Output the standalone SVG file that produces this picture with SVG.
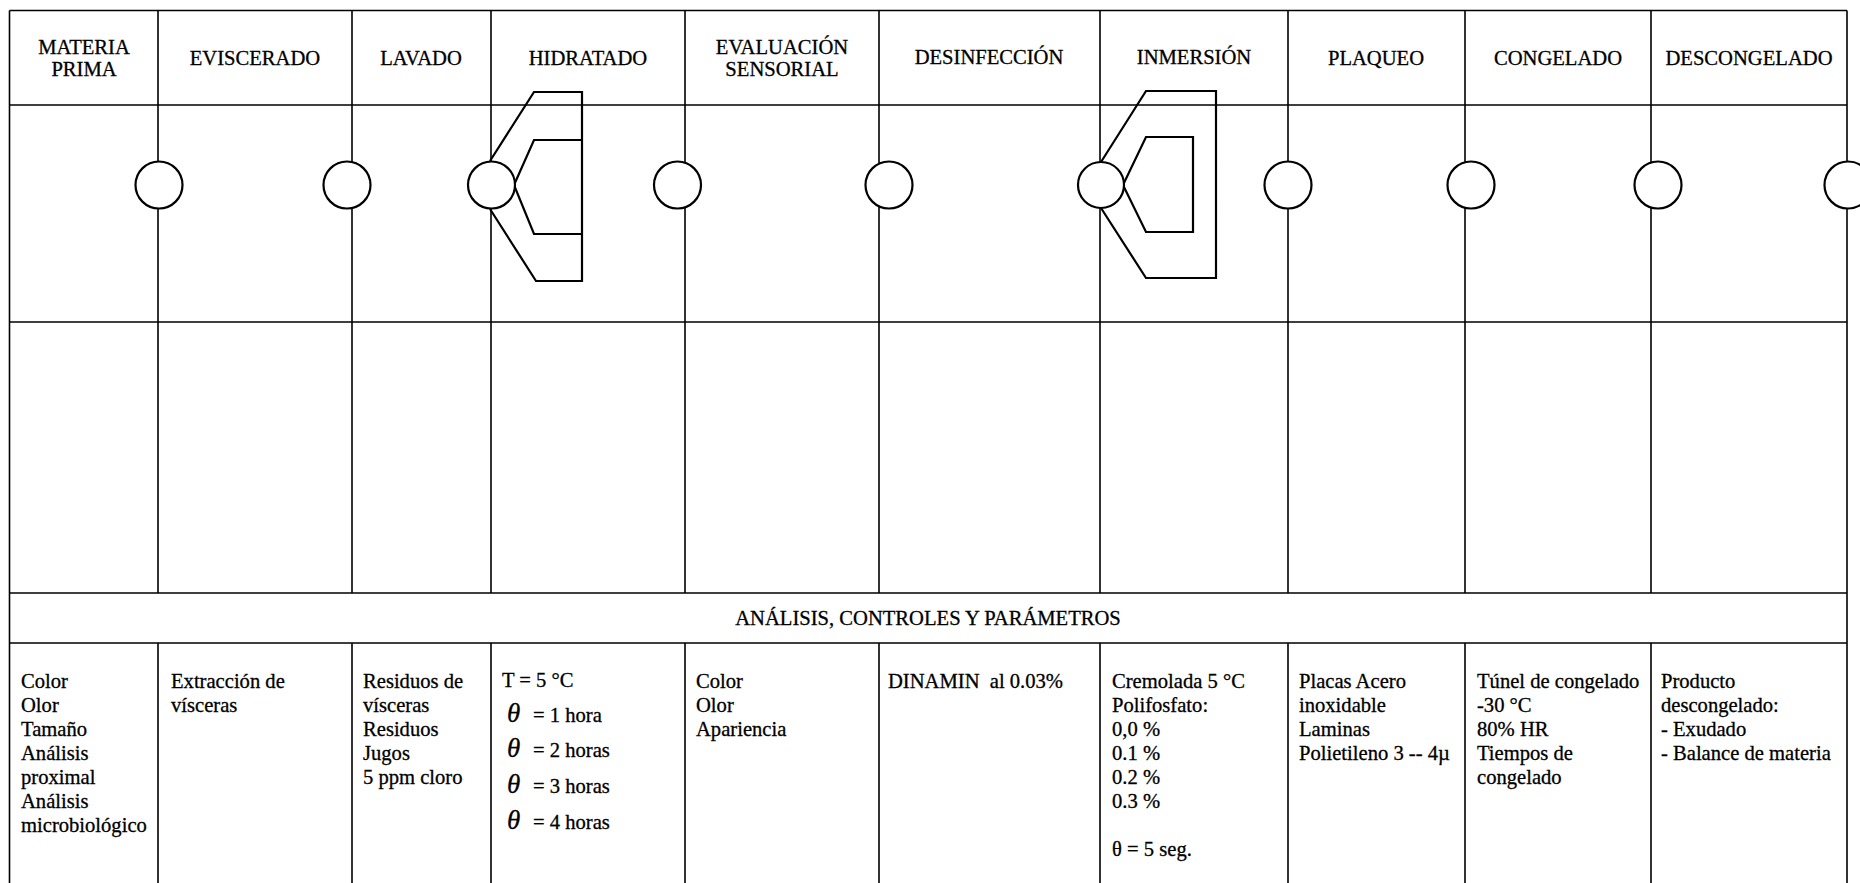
<svg xmlns="http://www.w3.org/2000/svg" width="1860" height="883" viewBox="0 0 1860 883">
<style>
.ln{stroke:#000;stroke-width:1.6;fill:none}
.c{fill:#fff;stroke:#000;stroke-width:2.2}
.sh{fill:none;stroke:#000;stroke-width:2.2;stroke-linejoin:miter}
.h{text-anchor:middle}
.th{font-style:italic;font-size:27px}
</style>
<rect width="1860" height="883" fill="#fff"/>
<g id="table">
<path class="ln" d="M9.5 10.5H1847M9.5 105H1847M9.5 322H1847M9.5 593H1847M9.5 643H1847M9.5 10.5V883M1847 10.5V883"/>
</g>
<g id="connectors">
<path class="ln" d="M158 10.5V593M352 10.5V593M491 10.5V593M685 10.5V593M879 10.5V593M1100 10.5V593M1288 10.5V593M1465 10.5V593M1651 10.5V593"/>
<path class="ln" d="M158 643V883M352 643V883M491 643V883M685 643V883M879 643V883M1100 643V883M1288 643V883M1465 643V883M1651 643V883"/>
</g>
<g id="shapes">
<g id="s-hidratado">
<path class="sh" d="M490 161L534 92H582V281H536L490 209"/>
<path class="sh" d="M582 140H534L514 185L534 234H582"/>
</g>
<g id="s-inmersion">
<path class="sh" d="M1101 162L1146 91H1216V278H1146L1101 208"/>
<path class="sh" d="M1123 185L1146 137H1193V232H1146Z"/>
</g>
</g>
<g id="circles">
<circle id="n1" class="c" cx="159" cy="185" r="23.5"/>
<circle id="n2" class="c" cx="347" cy="185" r="23.5"/>
<circle id="n3" class="c" cx="491.5" cy="185" r="23.5"/>
<circle id="n4" class="c" cx="677.5" cy="185" r="23.5"/>
<circle id="n5" class="c" cx="889" cy="185" r="23.5"/>
<circle id="n6" class="c" cx="1101" cy="185" r="23"/>
<circle id="n7" class="c" cx="1288" cy="185" r="23.5"/>
<circle id="n8" class="c" cx="1471" cy="185" r="23.5"/>
<circle id="n9" class="c" cx="1658" cy="185" r="23.5"/>
<circle id="n10" class="c" cx="1848" cy="185" r="23.5"/>
</g>
<g id="texts" font-family="Liberation Serif, serif" font-size="20.6" fill="#000" stroke="#000" stroke-width="0.3">
<g id="header">
<g id="h-materia"><text class="h" x="84" y="54">MATERIA</text><text class="h" x="84" y="76">PRIMA</text></g>
<g id="h-eviscerado"><text class="h" x="255" y="65">EVISCERADO</text></g>
<g id="h-lavado"><text class="h" x="421" y="65">LAVADO</text></g>
<g id="h-hidratado"><text class="h" x="588" y="65">HIDRATADO</text></g>
<g id="h-evaluacion"><text class="h" x="782" y="54">EVALUACIÓN</text><text class="h" x="782" y="76">SENSORIAL</text></g>
<g id="h-desinfeccion"><text class="h" x="989" y="64">DESINFECCIÓN</text></g>
<g id="h-inmersion"><text class="h" x="1194" y="64">INMERSIÓN</text></g>
<g id="h-plaqueo"><text class="h" x="1376" y="65">PLAQUEO</text></g>
<g id="h-congelado"><text class="h" x="1558" y="65">CONGELADO</text></g>
<g id="h-descongelado"><text class="h" x="1749" y="65">DESCONGELADO</text></g>
</g>
<g id="analisis-title"><text class="h" x="928" y="625">ANÁLISIS, CONTROLES Y PARÁMETROS</text></g>
<g id="params">
<g id="p1"><text x="21" y="688">Color</text><text x="21" y="712">Olor</text><text x="21" y="736">Tamaño</text><text x="21" y="760">Análisis</text><text x="21" y="784">proximal</text><text x="21" y="808">Análisis</text><text x="21" y="832">microbiológico</text></g>
<g id="p2"><text x="171" y="688">Extracción de</text><text x="171" y="712">vísceras</text></g>
<g id="p3"><text x="363" y="688">Residuos de</text><text x="363" y="712">vísceras</text><text x="363" y="736">Residuos</text><text x="363" y="760">Jugos</text><text x="363" y="784">5 ppm cloro</text></g>
<g id="p4"><text x="502" y="687">T = 5 °C</text>
<text class="th" x="507" y="722">θ</text><text x="533" y="722">= 1 hora</text>
<text class="th" x="507" y="757">θ</text><text x="533" y="757">= 2 horas</text>
<text class="th" x="507" y="793">θ</text><text x="533" y="793">= 3 horas</text>
<text class="th" x="507" y="829">θ</text><text x="533" y="829">= 4 horas</text></g>
<g id="p5"><text x="696" y="688">Color</text><text x="696" y="712">Olor</text><text x="696" y="736">Apariencia</text></g>
<g id="p6"><text x="888" y="688" xml:space="preserve">DINAMIN  al 0.03%</text></g>
<g id="p7"><text x="1112" y="688">Cremolada 5 °C</text><text x="1112" y="712">Polifosfato:</text><text x="1112" y="736">0,0 %</text><text x="1112" y="760">0.1 %</text><text x="1112" y="784">0.2 %</text><text x="1112" y="808">0.3 %</text><text x="1112" y="856">θ = 5 seg.</text></g>
<g id="p8"><text x="1299" y="688">Placas Acero</text><text x="1299" y="712">inoxidable</text><text x="1299" y="736">Laminas</text><text x="1299" y="760">Polietileno 3 -- 4µ</text></g>
<g id="p9"><text x="1477" y="688">Túnel de congelado</text><text x="1477" y="712">-30 °C</text><text x="1477" y="736">80% HR</text><text x="1477" y="760">Tiempos de</text><text x="1477" y="784">congelado</text></g>
<g id="p10"><text x="1661" y="688">Producto</text><text x="1661" y="712">descongelado:</text><text x="1661" y="736">- Exudado</text><text x="1661" y="760">- Balance de materia</text></g>
</g>
</g>
</svg>
